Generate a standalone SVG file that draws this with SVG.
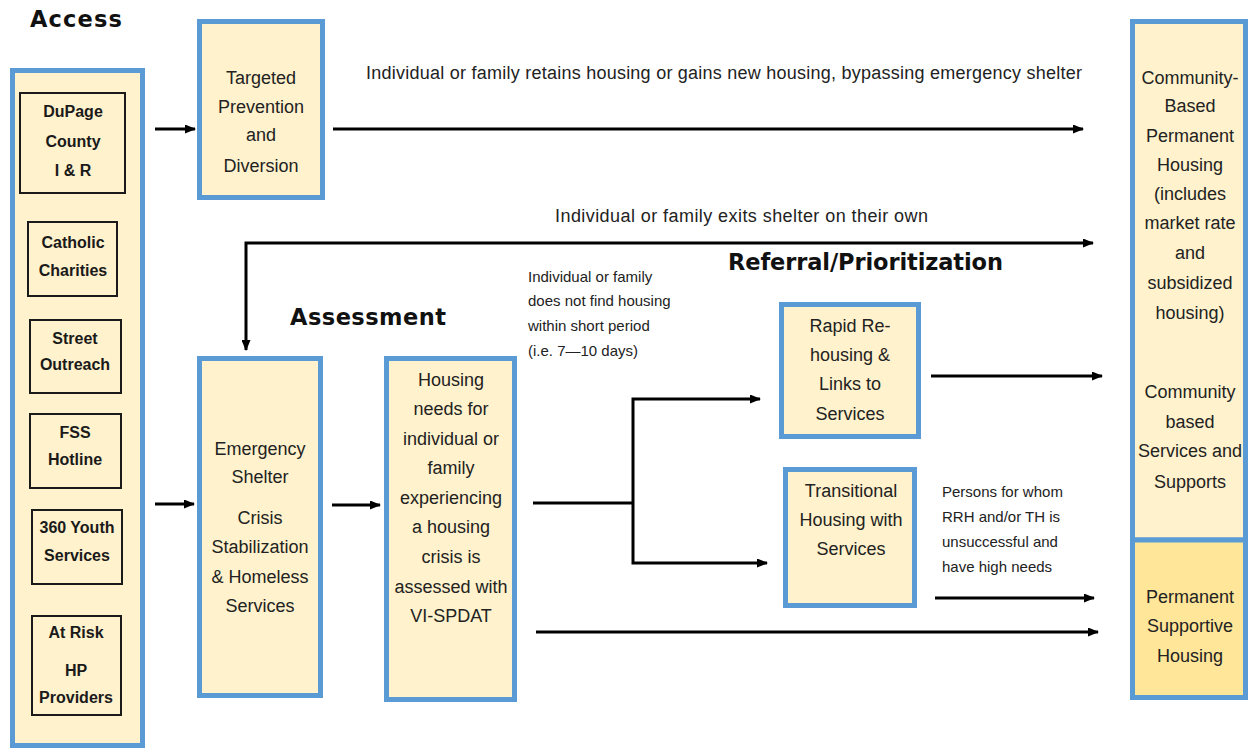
<svg xmlns="http://www.w3.org/2000/svg" width="1251" height="751" viewBox="0 0 1251 751">
<style>
.box{fill:#FFF2CC;stroke:#5B9BD5;stroke-width:5}
.psh{fill:#FFE699;stroke:#5B9BD5;stroke-width:5}
.inner{fill:none;stroke:#1a1a1a;stroke-width:2}
.t{font-family:"Liberation Sans",Arial,sans-serif;font-size:18px;fill:#222;text-anchor:middle}
.tb{font-family:"Liberation Sans",Arial,sans-serif;font-size:16px;font-weight:bold;fill:#1a1a1a;text-anchor:middle}
.s{font-family:"Liberation Sans",Arial,sans-serif;font-size:15px;fill:#222}
.lbl{font-family:"Liberation Sans",Arial,sans-serif;font-size:18px;fill:#222}
.h{font-family:"DejaVu Sans",sans-serif;font-weight:bold;font-size:22.5px;fill:#111}
.c{stroke:#000;stroke-width:3;fill:none}
.ca{stroke:#000;stroke-width:3;fill:none;marker-end:url(#arr)}
</style>
<defs>
<marker id="arr" markerUnits="userSpaceOnUse" markerWidth="11" markerHeight="9" refX="10" refY="4.5" orient="auto-start-reverse">
<path d="M0,0 L11,4.5 L0,9 z" fill="#000"/>
</marker>
</defs>
<rect width="1251" height="751" fill="#fff"/>

<g id="headings">
<text class="h" x="30" y="27" textLength="92">Access</text>
<text class="h" x="290" y="325" textLength="156">Assessment</text>
<text class="h" x="728" y="270" textLength="275">Referral/Prioritization</text>
</g>

<g id="access">
<rect class="box" x="12.5" y="70.5" width="130" height="675"/>
<g id="dupage"><rect class="inner" x="20" y="93" width="105" height="100"/>
<text class="tb" x="73" y="117">DuPage</text><text class="tb" x="73" y="147">County</text><text class="tb" x="73" y="176">I &amp; R</text></g>
<g id="catholic"><rect class="inner" x="28" y="222" width="89" height="74"/>
<text class="tb" x="73" y="248">Catholic</text><text class="tb" x="73" y="276">Charities</text></g>
<g id="street"><rect class="inner" x="30" y="320" width="91" height="73"/>
<text class="tb" x="75" y="344">Street</text><text class="tb" x="75" y="370">Outreach</text></g>
<g id="fss"><rect class="inner" x="30" y="414" width="91" height="74"/>
<text class="tb" x="75" y="438">FSS</text><text class="tb" x="75" y="465">Hotline</text></g>
<g id="youth"><rect class="inner" x="32" y="510" width="90" height="74"/>
<text class="tb" x="77" y="533">360 Youth</text><text class="tb" x="77" y="561">Services</text></g>
<g id="atrisk"><rect class="inner" x="32" y="616" width="89" height="99"/>
<text class="tb" x="76" y="638">At Risk</text><text class="tb" x="76" y="676">HP</text><text class="tb" x="76" y="703">Providers</text></g>
</g>

<g id="targeted">
<rect class="box" x="199.5" y="21.5" width="123" height="176"/>
<text class="t" x="261" y="84">Targeted</text><text class="t" x="261" y="113">Prevention</text><text class="t" x="261" y="141">and</text><text class="t" x="261" y="172">Diversion</text>
</g>

<g id="shelter">
<rect class="box" x="199.5" y="358.5" width="121" height="337"/>
<text class="t" x="260" y="455">Emergency</text><text class="t" x="260" y="483">Shelter</text>
<text class="t" x="260" y="524">Crisis</text><text class="t" x="260" y="553">Stabilization</text><text class="t" x="260" y="583">&amp; Homeless</text><text class="t" x="260" y="612">Services</text>
</g>

<g id="assess">
<rect class="box" x="386.5" y="358.5" width="128" height="341"/>
<text class="t" x="451" y="386">Housing</text><text class="t" x="451" y="415">needs for</text><text class="t" x="451" y="445">individual or</text><text class="t" x="451" y="474">family</text><text class="t" x="451" y="504">experiencing</text><text class="t" x="451" y="533">a housing</text><text class="t" x="451" y="563">crisis is</text><text class="t" x="451" y="593">assessed with</text><text class="t" x="451" y="622">VI-SPDAT</text>
</g>

<g id="rrh">
<rect class="box" x="781.5" y="304.5" width="137" height="132"/>
<text class="t" x="850" y="332">Rapid Re-</text><text class="t" x="850" y="361">housing &amp;</text><text class="t" x="850" y="390">Links to</text><text class="t" x="850" y="420">Services</text>
</g>

<g id="th">
<rect class="box" x="785.5" y="469.5" width="129" height="136"/>
<text class="t" x="851" y="497">Transitional</text><text class="t" x="851" y="526">Housing with</text><text class="t" x="851" y="555">Services</text>
</g>

<g id="community">
<rect class="box" x="1132.5" y="21.5" width="113" height="518.5"/>
<text class="t" x="1190" y="84">Community-</text><text class="t" x="1190" y="112">Based</text><text class="t" x="1190" y="142">Permanent</text><text class="t" x="1190" y="171">Housing</text><text class="t" x="1190" y="200">(includes</text><text class="t" x="1190" y="229">market rate</text><text class="t" x="1190" y="259">and</text><text class="t" x="1190" y="289">subsidized</text><text class="t" x="1190" y="319">housing)</text>
<text class="t" x="1190" y="398">Community</text><text class="t" x="1190" y="428">based</text><text class="t" x="1190" y="457">Services and</text><text class="t" x="1190" y="488">Supports</text>
</g>

<g id="psh">
<rect class="psh" x="1132.5" y="540" width="113" height="157.5"/>
<text class="t" x="1190" y="603">Permanent</text><text class="t" x="1190" y="632">Supportive</text><text class="t" x="1190" y="662">Housing</text>
</g>

<g id="connectors">
<path class="ca" d="M155,129 H195"/>
<path class="ca" d="M333,129 H1083"/>
<path class="ca" d="M1093,243 H246 V350" marker-start="url(#arr)"/>
<path class="ca" d="M155,504 H194"/>
<path class="ca" d="M332,505 H380"/>
<path class="c" d="M533,503 H633"/>
<path class="ca" d="M633,503 V399 H760"/>
<path class="ca" d="M633,503 V563 H767"/>
<path class="ca" d="M931,376 H1102"/>
<path class="ca" d="M935,598 H1094"/>
<path class="ca" d="M536,632 H1098"/>
</g>

<g id="labels">
<text class="lbl" x="366" y="79" textLength="716">Individual or family retains housing or gains new housing, bypassing emergency shelter</text>
<text class="lbl" x="555" y="222" textLength="373">Individual or family exits shelter on their own</text>
<text class="s" x="528" y="282">Individual or family</text>
<text class="s" x="528" y="306">does not find housing</text>
<text class="s" x="528" y="331">within short period</text>
<text class="s" x="528" y="356">(i.e. 7—10 days)</text>
<text class="s" x="942" y="497">Persons for whom</text>
<text class="s" x="942" y="522">RRH and/or TH is</text>
<text class="s" x="942" y="547">unsuccessful and</text>
<text class="s" x="942" y="572">have high needs</text>
</g>
</svg>
